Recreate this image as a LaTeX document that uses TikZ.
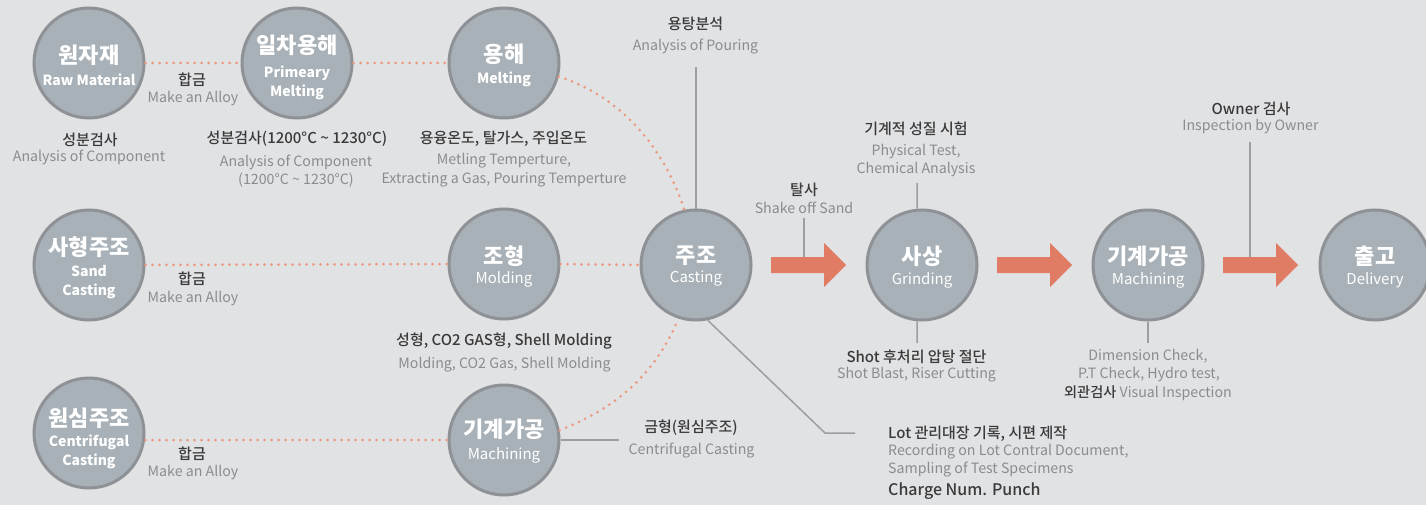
\documentclass[tikz,border=0pt]{standalone}
\usepackage{fontspec}
\setmainfont{Noto Sans CJK KR}
\newfontfamily\medfont{Noto Sans CJK KR Medium}
\usetikzlibrary{calc}
\definecolor{bg}{HTML}{E1E2E4}
\definecolor{cfill}{HTML}{A8B1B7}
\definecolor{cline}{HTML}{8E9296}
\definecolor{kdark}{HTML}{3A3A3A}
\definecolor{egray}{HTML}{8A8C8E}
\definecolor{dotc}{HTML}{EB9A80}
\definecolor{arr}{HTML}{E07C63}
\definecolor{gl}{HTML}{9C9EA0}
\newcommand\flowarrow[1]{\fill[arr] (#1,-257) -- (#1+53,-257) -- (#1+53,-243) -- (#1+75,-265) -- (#1+53,-287) -- (#1+53,-273) -- (#1,-273) -- cycle;}
\begin{document}
\begin{tikzpicture}[x=1pt,y=1pt,
 proc/.style={circle,minimum size=110pt,inner sep=0pt,draw=cline,line width=3pt,fill=cfill},
 ttl/.style={text=white,font=\fontsize{22}{24}\selectfont\bfseries,inner sep=0pt},
 subb/.style={text=white,font=\fontsize{14}{19}\selectfont\bfseries,inner sep=0pt,align=center},
 subr/.style={text=white,font=\fontsize{15}{19}\selectfont,inner sep=0pt},
 kor/.style={text=kdark,font=\fontsize{15}{18}\selectfont\medfont,inner sep=0pt},
 eng/.style={text=egray,font=\fontsize{14.2}{18}\selectfont,inner sep=0pt},
 dots/.style={dotc,line width=3pt,line cap=round,dash pattern=on 0pt off 7pt},
 gline/.style={gl,line width=1.5pt},
 ]
\fill[bg] (0,0) rectangle (1426,-505);
\useasboundingbox (0,0) rectangle (1426,-505);

% circles
\node[proc] (raw) at (89,-63) {};
\node[proc] (prim) at (297,-63) {};
\node[proc] (melt) at (504,-63) {};
\node[proc] (sand) at (89,-265) {};
\node[proc] (mold) at (504,-264) {};
\node[proc] (cast) at (696,-265) {};
\node[proc] (cent) at (89,-433) {};
\node[proc] (mach1) at (504,-440) {};
\node[proc] (grind) at (922,-265) {};
\node[proc] (mach2) at (1148,-265) {};
\node[proc] (deliv) at (1375,-265) {};

% dotted links
\draw[dots] (raw.east) -- (prim.west);
\draw[dots] (prim.east) -- (melt.west);
\draw[dots] (sand.east) -- (mold.west);
\draw[dots] (mold.east) -- (cast.west);
\draw[dots] (cent.east |- mach1.west) -- (mach1.west);
\draw[dots] (melt.-14) .. controls (620,-96) and (664,-147) .. (cast.102);
\draw[dots] (mach1.10) .. controls (617.6,-407.5) and (654.6,-374.2) .. (cast.252);

% arrows
\flowarrow{771}
\flowarrow{997}
\flowarrow{1223}

% gray leader lines
\coordinate (pourEnd) at (696,-67);
\draw[gline] (cast.north) -- (pourEnd);
\coordinate (shakeTop) at (804,-218);
\coordinate (shakeBot) at (804,-257);
\draw[gline] (shakeTop) -- (shakeBot);
\coordinate (physEnd) at (917,-183);
\draw[gline] (grind.95) -- (physEnd);
\coordinate (shotEnd) at (917,-343);
\draw[gline] (grind.265) -- (shotEnd);
\coordinate (ownTop) at (1250,-142);
\coordinate (ownBot) at (1250,-257);
\draw[gline] (ownTop) -- (ownBot);
\coordinate (dimEnd) at (1148,-343);
\draw[gline] (mach2.south) -- (dimEnd);
\coordinate (centEnd) at (619,-440);
\draw[gline] (mach1.east) -- (centEnd);
\coordinate (lotBend) at (825,-433);
\coordinate (lotEnd) at (855,-433);
\draw[gline] (cast.-78) -- (lotBend) -- (lotEnd);

% circle texts
\node[ttl] (t1) at (89,-55) {원자재};
\node[subb] (s1) at (89,-79.5) {Raw Material};
\node[ttl] (t2) at (297,-45) {일차용해};
\node[subb] (s2) at (297,-83) {Primeary\\Melting};
\node[ttl] (t3) at (504,-54) {용해};
\node[subb] (s3) at (504,-79) {Melting};
\node[ttl] (t4) at (89,-247.5) {사형주조};
\node[subb] (s4) at (89,-282) {Sand\\Casting};
\node[ttl] (t5) at (504,-256) {조형};
\node[subr] (s5) at (504,-279) {Molding};
\node[ttl] (t6) at (696,-256) {주조};
\node[subr] (s6) at (696,-279) {Casting};
\node[ttl] (t7) at (89,-418) {원심주조};
\node[subb] (s7) at (89,-452) {Centrifugal\\Casting};
\node[ttl] (t8) at (504,-429) {기계가공};
\node[subr] (s8) at (504,-455) {Machining};
\node[ttl] (t9) at (922,-256) {사상};
\node[subr] (s9) at (922,-280) {Grinding};
\node[ttl] (t10) at (1148,-256) {기계가공};
\node[subr] (s10) at (1148,-280) {Machining};
\node[ttl] (t11) at (1375,-256) {출고};
\node[subr] (s11) at (1375,-280) {Delivery};

% labels
\node[kor] (a1k) at (192,-80) {합금};
\node[eng] (a1e) at (193,-99) {Make an Alloy};
\node[kor] (a2k) at (192,-279) {합금};
\node[eng] (a2e) at (193,-299) {Make an Alloy};
\node[kor] (a3k) at (192,-454) {합금};
\node[eng] (a3e) at (193,-473) {Make an Alloy};

\node[kor] (c1k) at (90,-140) {성분검사};
\node[eng] (c1e) at (89,-157) {Analysis of Component};
\node[kor] (c2k) at (297,-139) {성분검사(1200°C \textasciitilde{} 1230°C)};
\node[eng] (c2e) at (296,-162) {Analysis of Component};
\node[eng] (c2f) at (296,-180) {(1200°C \textasciitilde{} 1230°C)};
\node[kor] (m1k) at (503.5,-139) {용융온도, 탈가스, 주입온도};
\node[eng] (m1e) at (504,-161) {Metling Temperture,};
\node[eng] (m1f) at (504,-180) {Extracting a Gas, Pouring Temperture};
\node[kor] (p1k) at (695.5,-23.5) {용탕분석};
\node[eng] (p1e) at (695.5,-47) {Analysis of Pouring};

\node[kor] (g1k) at (504,-341) {성형, CO2 GAS형, Shell Molding};
\node[eng] (g1e) at (504.5,-365) {Molding, CO2 Gas, Shell Molding};
\node[kor] (f1k) at (691,-428) {금형(원심주조)};
\node[eng] (f1e) at (691.5,-451) {Centrifugal Casting};

\node[kor] (sk) at (804,-190) {탈사};
\node[eng] (se) at (804,-208) {Shake off Sand};
\node[kor] (phk) at (916,-128.5) {기계적 성질 시험};
\node[eng] (phe) at (916,-152) {Physical Test,};
\node[eng] (phf) at (916,-170) {Chemical Analysis};
\node[kor] (shk) at (916.5,-357) {Shot 후처리 압탕 절단};
\node[eng] (she) at (916.5,-375) {Shot Blast, Riser Cutting};

\node[kor] (owk) at (1251,-109) {Owner 검사};
\node[eng] (owe) at (1250.5,-127) {Inspection by Owner};
\node[eng] (dme) at (1148,-356) {Dimension Check,};
\node[eng] (dmf) at (1149,-375) {P.T Check, Hydro test,};
\node[eng] (dmg) at (1148,-393) {{\color{kdark}\medfont 외관검사} Visual Inspection};

\node[kor,anchor=west] (lk) at (888,-434) {Lot 관리대장 기록, 시편 제작};
\node[eng,anchor=west] (le) at (888,-452) {Recording on Lot Contral Document,};
\node[eng,anchor=west] (lf) at (888,-470) {Sampling of Test Specimens};
\node[kor,anchor=west,font=\fontsize{16}{18}\selectfont\medfont] (lg) at (888,-491) {Charge Num. Punch};
\end{tikzpicture}
\end{document}
